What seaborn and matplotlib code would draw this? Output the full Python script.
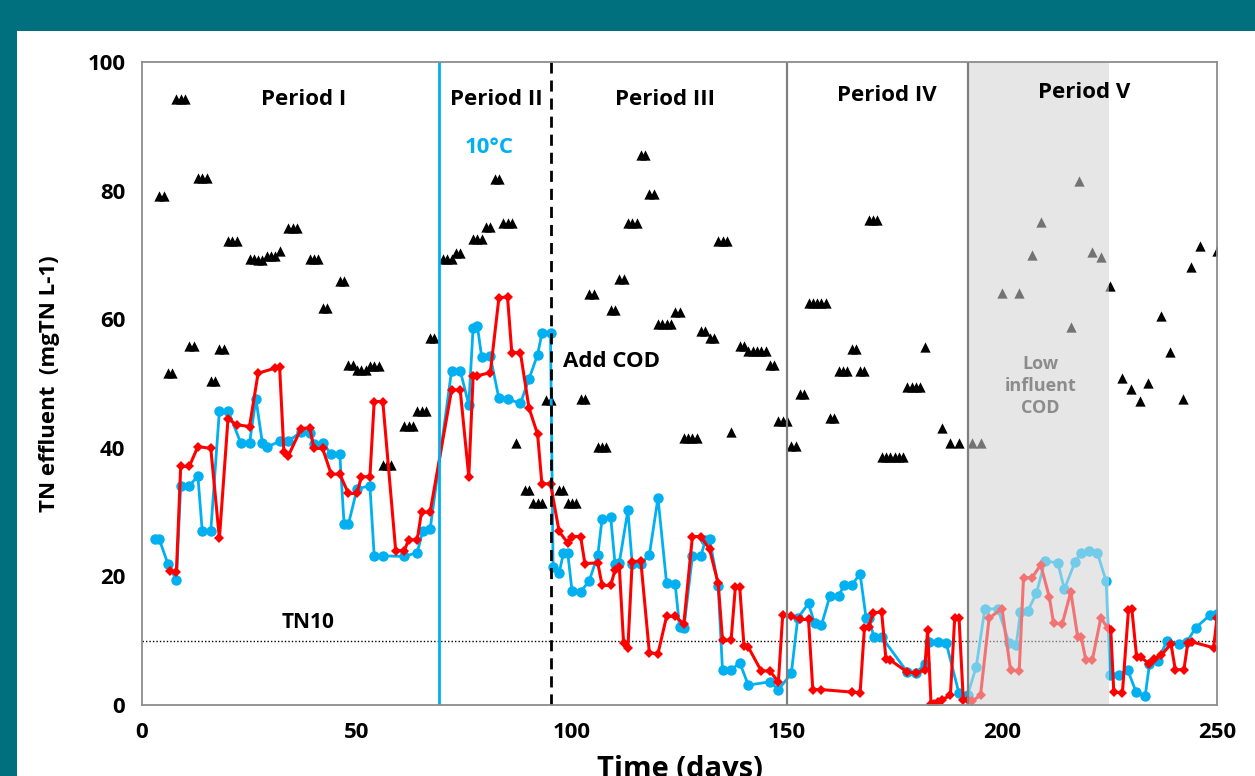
import matplotlib
matplotlib.use("Agg")
import matplotlib.pyplot as plt
import seaborn as sns
from matplotlib.patches import Rectangle

#################################################
#   DATA  ---------------------------------------
#################################################
# influent TN (black triangles)
tri_days = [4, 5, 6, 7, 8, 9, 10, 11, 12, 13, 14, 15, 16, 17, 18, 19, 20, 21, 22,
            25, 26, 27, 28, 29, 30, 31, 32, 34, 35, 36, 39, 40, 41, 42, 43, 46, 47,
            48, 49, 50, 51, 52, 53, 54, 55, 56, 57, 58, 61, 62, 63, 64, 65, 66, 67, 68,
            70, 71, 72, 73, 74, 77, 78, 79, 80, 81, 82, 83, 84, 85, 86, 87, 89, 90,
            91, 92, 93, 94, 95,
            97, 98, 99, 100, 101, 102, 103, 104, 105, 106, 107, 108, 109, 110, 111, 112,
            113, 114, 115, 116, 117, 118, 119, 120, 121, 122, 123, 124, 125, 126, 127,
            128, 129, 130, 131, 132, 133, 134, 135, 136, 137, 139, 140, 141, 142, 143,
            144, 145, 146, 147, 148, 149, 150,
            151, 152, 153, 154, 155, 156, 157, 158, 159, 160, 161, 162, 163, 164, 165,
            166, 167, 168, 169, 170, 171, 172, 173, 174, 175, 176, 177, 178, 179, 180,
            181, 182, 186, 188, 190,
            193, 195, 200, 204, 207, 209, 216, 218, 221, 223,
            225, 228, 230, 232, 234, 237, 239, 242, 244, 246, 250]
tri_vals = [79.2, 79.2, 51.6, 51.6, 94.2, 94.2, 94.2, 55.9, 55.9, 82.0, 82.0, 82.0,
            50.4, 50.4, 55.4, 55.4, 72.1, 72.1, 72.1,
            69.4, 69.4, 69.2, 69.2, 69.8, 69.8, 69.8, 70.6, 74.2, 74.2, 74.2, 69.3, 69.3,
            69.3, 61.7, 61.7, 65.9, 65.9,
            52.9, 52.9, 52.1, 52.1, 52.1, 52.7, 52.7, 52.7, 37.3, 37.3, 37.3, 43.4, 43.4,
            43.4, 45.8, 45.8, 45.8, 57.0, 57.0,
            69.4, 69.4, 69.4, 70.3, 70.3, 72.5, 72.5, 72.5, 74.4, 74.4, 81.8, 81.8, 75.0,
            75.0, 75.0, 40.7, 33.5, 33.5,
            31.4, 31.4, 31.4, 47.5, 47.5,
            33.5, 33.5, 31.4, 31.4, 31.4, 47.6, 47.6, 63.9, 63.9, 40.2, 40.2, 40.2, 61.4,
            61.4, 66.3, 66.3,
            75.0, 75.0, 75.0, 85.5, 85.5, 79.4, 79.4, 59.2, 59.2, 59.2, 59.2, 61.1, 61.1,
            41.6, 41.6,
            41.6, 41.6, 58.1, 58.1, 57.0, 57.0, 72.1, 72.1, 72.1, 42.5, 55.9, 55.9, 55.0,
            55.0, 55.0,
            55.0, 55.0, 52.8, 52.8, 44.1, 44.1, 44.1,
            40.3, 40.3, 48.3, 48.3, 62.5, 62.5, 62.5, 62.5, 62.5, 44.6, 44.6, 52.0, 52.0,
            52.0, 55.4,
            55.4, 52.0, 52.0, 75.4, 75.4, 75.4, 38.6, 38.6, 38.6, 38.6, 38.6, 38.6, 49.4,
            49.4, 49.4,
            49.4, 55.6, 43.1, 40.7, 40.7,
            40.7, 40.7, 64.1, 64.1, 70.0, 75.1, 58.8, 81.5, 70.5, 69.6,
            65.1, 50.8, 49.1, 47.3, 50.1, 60.5, 54.9, 47.6, 68.1, 71.4, 70.6]

# effluent TN reactor A (red diamonds)
red_days = [6.5, 8, 9, 11, 13, 16, 18, 20, 22, 25, 27, 31, 32, 33, 34, 37, 39, 40, 42,
            44, 46, 48, 50, 51, 53, 54, 56, 59, 61, 62, 64, 65, 67,
            72, 74, 76, 77, 78, 81, 83, 85, 86, 88, 90, 92, 93, 95,
            97, 99, 100, 102, 103, 106, 107, 109, 110, 111, 112, 113, 114, 116, 118, 120,
            122, 124, 126, 128, 130, 132, 134, 135, 137, 138, 139, 140, 141, 144, 146,
            148, 149,
            151, 153, 155, 156, 158, 165, 167, 168, 169, 170, 172, 173, 174, 178, 180,
            182, 182.7, 183.5, 184.3, 185, 186, 188, 189, 190, 191, 192,
            193, 195, 197, 200, 202, 204, 205, 207, 209, 211, 212, 214, 216, 217.6,
            218.4, 219.5, 221, 223, 224.6,
            225.3, 226, 228, 229.4, 230.2, 231.3, 232.3, 234.3, 235.4, 237, 239.3, 240.3,
            242.3, 243.2, 244.3, 249.2, 250]
red_vals = [20.8, 20.7, 37.1, 37.1, 40.2, 39.9, 25.9, 44.5, 43.6, 43.3, 51.6, 52.4,
            52.6, 39.3, 38.7, 43.0, 43.1, 39.9, 39.9,
            35.9, 35.9, 32.9, 32.9, 35.5, 35.5, 47.2, 47.2, 24.0, 24.0, 25.7, 25.7, 30.0,
            30.0,
            49.0, 49.0, 35.5, 51.1, 51.2, 51.7, 63.3, 63.5, 54.8, 54.8, 46.2, 42.1, 34.4,
            34.4,
            27.0, 25.2, 26.2, 26.2, 22.0, 22.1, 18.6, 18.6, 21.0, 21.5, 9.6, 8.9, 22.3,
            22.4, 8.1, 8.0,
            13.8, 13.8, 12.6, 26.2, 26.2, 24.2, 18.9, 10.1, 10.1, 18.4, 18.4, 9.1, 9.0,
            5.3, 5.3,
            3.6, 14.0,
            13.8, 13.3, 13.3, 2.4, 2.4, 2.0, 1.9, 11.9, 12.1, 14.3, 14.5, 7.2, 7.0, 5.1,
            5.0,
            5.4, 11.6, 0.1, 0.1, 0.5, 0.8, 1.5, 13.5, 13.6, 0.8, 0.8,
            0.6, 1.5, 13.5, 15.0, 5.4, 5.3, 19.8, 19.8, 21.8, 16.8, 12.7, 12.6, 17.6, 10.6,
            10.6, 7.0, 7.0, 13.6, 11.9,
            11.6, 2.0, 1.9, 14.7, 14.9, 7.5, 7.4, 6.4, 7.2, 7.7, 9.5, 5.5,
            5.5, 9.6, 9.8, 8.9, 13.5]

# effluent TN reactor B (blue circles)
blue_days = [3, 4, 6, 8, 9, 11, 13, 14, 16, 18, 20, 23, 25, 26.5, 28, 29, 32, 34, 37,
             39, 40, 42, 44, 46, 47, 48, 50, 53, 54, 56, 61, 64, 65.3, 67,
             72, 74, 76, 77, 78, 79, 81, 83, 85, 88, 90, 92, 93, 95, 95.6,
             97, 98, 99, 100, 102, 104, 106, 107, 109, 110, 111, 113, 114, 116, 118, 120,
             122, 124, 125, 126, 128, 130, 131, 132, 134, 135, 137, 139, 141, 146, 148,
             151, 152.5, 155, 156.4, 158, 160, 162, 163.3, 165, 167, 168.4, 169, 170.2,
             172, 178, 180, 182, 183, 185, 187, 190, 192,
             194, 196, 199, 201.7, 203.3, 204.3, 206, 208, 210, 213, 214.5, 217, 218.4,
             220.3, 222.2, 224.2,
             225.2, 227.3, 229.2, 231.2, 233.3, 234.3, 236.2, 238.4, 241.2, 243, 245,
             248.4, 250]
blue_vals = [25.8, 25.8, 22.0, 19.4, 34.1, 34.1, 35.6, 27.1, 27.1, 45.8, 45.8, 40.7,
             40.7, 47.6, 40.7, 40.1, 41.0, 41.0, 42.5,
             42.3, 40.6, 40.8, 39.0, 39.0, 28.1, 28.1, 33.6, 34.1, 23.2, 23.2, 23.1, 23.7,
             27.1, 27.3,
             52.0, 52.0, 46.7, 58.7, 58.9, 54.1, 54.2, 47.7, 47.6, 46.9, 50.7, 54.5, 57.8,
             57.8, 21.5,
             20.5, 23.6, 23.7, 17.8, 17.6, 19.3, 23.3, 29.0, 29.2, 22.0, 22.1, 30.3, 22.0,
             21.9, 23.4, 32.2,
             18.9, 18.8, 12.2, 11.9, 23.1, 23.2, 25.6, 25.8, 18.5, 5.4, 5.4, 6.6, 3.1, 3.6,
             2.4,
             4.9, 13.5, 15.8, 12.7, 12.4, 17.0, 17.0, 18.6, 18.6, 20.4, 13.5, 13.5, 10.6,
             10.6, 5.1, 4.9, 6.4, 9.8, 9.8, 9.7, 1.8, 1.6,
             5.9, 14.9, 15.0, 9.6, 9.3, 14.5, 14.6, 17.4, 22.4, 22.1, 18.0, 22.3, 23.6,
             23.9, 23.6, 19.3,
             4.6, 4.6, 5.5, 2.0, 1.4, 6.4, 6.9, 10.0, 9.5, 9.8, 12.0,
             14.0, 14.1]

period_names = ["Period I", "Period II", "Period III", "Period IV", "Period V"]
period_label_x = [37.7, 82.3, 121.6, 173.3, 219.0]
period_label_y = [94.2, 94.2, 94.2, 94.8, 95.2]

#################################################
#   COLOURS / STYLE    ---------------------------
#################################################
teal = "#00707F"
red = "#FF0000"
blue = "#00B0F0"
shade = "#E6E6E6"
spine_gray = "#8C8C8C"

sns.set_style("white")
plt.rcParams["font.family"] = ["Open Sans", "DejaVu Sans"]
plt.rcParams["font.weight"] = "bold"
plt.rcParams["text.color"] = "black"
plt.rcParams["axes.labelcolor"] = "black"
plt.rcParams["xtick.labelcolor"] = "black"
plt.rcParams["ytick.labelcolor"] = "black"

fig = plt.figure(figsize=(12.55, 7.76), dpi=100, facecolor=teal)
fig.patches.append(Rectangle((17 / 1255, 0), 1, 1 - 31 / 776,
                             transform=fig.transFigure, facecolor="white",
                             edgecolor="none", zorder=-10))
ax = fig.add_axes([142 / 1255, 1 - 705 / 776, (1217 - 142) / 1255, (705 - 62) / 776])
ax.set_facecolor("white")

#################################################
#   PLOT    --------------------------------------
#################################################
# low influent COD window
ax.axvspan(192.2, 224.9, color=shade, zorder=0, lw=0)

# TN10 limit
ax.axhline(10, color="black", lw=1.0, ls=(0, (1, 1.5)), zorder=1)

sns.scatterplot(x=tri_days, y=tri_vals, marker="^", s=55, color="black",
                linewidth=0, ax=ax, zorder=3)
sns.lineplot(x=blue_days, y=blue_vals, color=blue, lw=2.0, marker="o",
             markersize=7.5, markeredgewidth=0, estimator=None, sort=False,
             ax=ax, zorder=4)
sns.lineplot(x=red_days, y=red_vals, color=red, lw=2.2, marker="D",
             markersize=5, markeredgewidth=0, estimator=None, sort=False,
             ax=ax, zorder=4)

# fade everything inside the low-COD window
ax.axvspan(192.2, 224.9, color=shade, alpha=0.5, zorder=5, lw=0)

# period boundaries
ax.axvline(69.1, color=blue, lw=2.0, zorder=6)
ax.axvline(95.0, color="black", lw=2.0, ls=(0, (4, 2.5)), zorder=6)
ax.axvline(150.1, color="#7F7F7F", lw=1.6, zorder=6)
ax.axvline(192.2, color="#7F7F7F", lw=1.6, zorder=6)

for name, px, py in zip(period_names, period_label_x, period_label_y):
    ax.text(px, py, name, ha="center", va="center", fontsize=16,
            fontweight="bold", zorder=7)

ax.text(80.7, 86.7, "10°C", ha="center", va="center", fontsize=16,
        fontweight="bold", color=blue, zorder=7)
ax.text(98.0, 53.4, "Add COD", ha="left", va="center", fontsize=16,
        fontweight="bold", zorder=7)
ax.text(38.6, 12.9, "TN10", ha="center", va="center", fontsize=15,
        fontweight="bold", zorder=7)
ax.text(209.0, 49.6, "Low\ninfluent\nCOD", ha="center", va="center", fontsize=13,
        fontweight="bold", color="#8C8C8C", linespacing=1.3, zorder=7)

#################################################
#   AXES    --------------------------------------
#################################################
ax.set_xlim(0, 250)
ax.set_ylim(0, 100)
ax.set_xticks([0, 50, 100, 150, 200, 250])
ax.set_yticks([0, 20, 40, 60, 80, 100])
ax.tick_params(axis="both", which="both", direction="out", length=6, width=1.2,
               color=spine_gray, labelsize=16, pad=6)
for lbl in ax.get_xticklabels() + ax.get_yticklabels():
    lbl.set_fontweight("bold")
for side in ["left", "right", "top", "bottom"]:
    ax.spines[side].set_visible(True)
    ax.spines[side].set_color(spine_gray)
    ax.spines[side].set_linewidth(1.3)
    ax.spines[side].set_zorder(8)

ax.set_xlabel("Time (days)", fontsize=21, fontweight="bold", labelpad=9)
ax.set_ylabel("TN effluent  (mgTN L-1)", fontsize=16, fontweight="bold", labelpad=20)

fig.savefig("out.png", dpi=100, facecolor=teal)
